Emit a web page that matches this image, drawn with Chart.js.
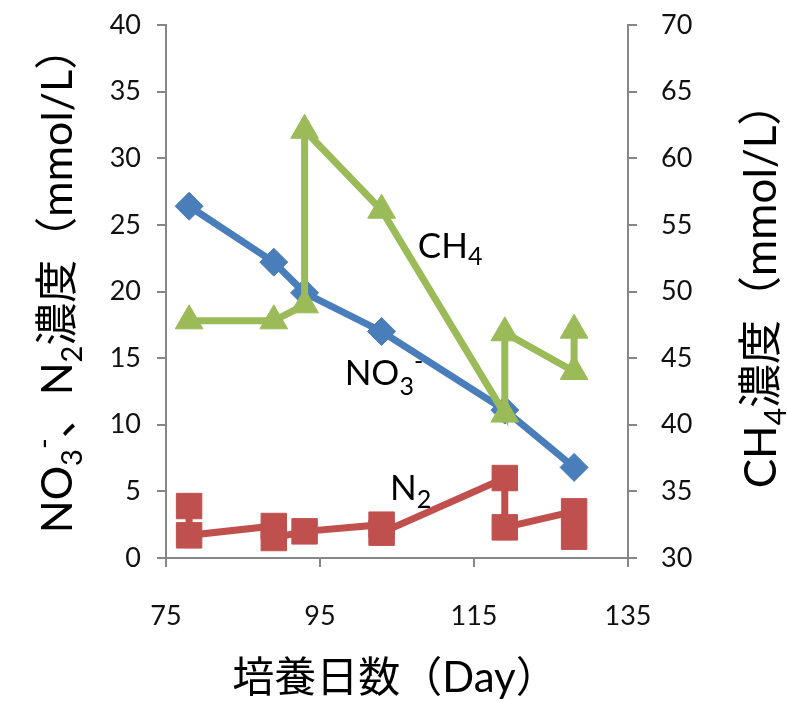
<!DOCTYPE html>
<html>
<head>
<meta charset="utf-8">
<script src="https://cdn.jsdelivr.net/npm/chart.js@4.4.1/dist/chart.umd.min.js"></script>
<style>
  html, body { margin: 0; padding: 0; background: #fff; }
</style>
</head>
<body>
<canvas id="chart" width="787" height="702"></canvas>
<script>
// NO3- (left axis)
const no3Days = [78, 89, 93, 103, 119, 128];
const no3Values = [26.4, 22.2, 19.9, 17.0, 11.1, 6.8];
// CH4 (right axis)
const ch4Days = [78, 89, 93, 93, 103, 119, 119, 128, 128];
const ch4Values = [47.8, 47.8, 49.0, 62.1, 56.1, 40.8, 46.9, 44.0, 47.1];
// N2 (left axis)
const n2Days = [78, 78, 89, 89, 93, 103, 103, 119, 119, 128, 128];
const n2Values = [3.9, 1.7, 2.4, 1.5, 2.0, 2.5, 1.9, 6.0, 2.3, 3.5, 1.6];

const xRange = [75, 135, 20];
const leftRange = [0, 40, 5];
const rightRange = [30, 70, 5];

const FONT = "Lato, 'Noto Sans CJK JP', sans-serif";
const AXIS_GRAY = '#878787';
const TICK_FONT = { family: FONT, size: 27 };

const toPoints = (xs, ys) => xs.map((x, i) => ({ x, y: ys[i] }));

// draws a string made of pieces: [text, size, baselineShift]
const drawRich = (ctx, parts, x, y, align) => {
  let total = 0;
  parts.forEach(p => {
    ctx.font = p[1] + 'px ' + FONT;
    total += ctx.measureText(p[0]).width;
  });
  let cx = align === 'center' ? x - total / 2 : x;
  parts.forEach(p => {
    ctx.font = p[1] + 'px ' + FONT;
    ctx.fillText(p[0], cx, y + p[2]);
    cx += ctx.measureText(p[0]).width;
  });
};

const textPlugin = {
  id: 'richText',
  afterDraw(chart) {
    const ctx = chart.ctx;
    const xs = chart.scales.x;
    const ys = chart.scales.y;
    ctx.save();
    ctx.fillStyle = '#000';
    ctx.textBaseline = 'alphabetic';

    // series labels inside the plot (anchored in data units)
    drawRich(ctx, [['CH', 35, 0], ['4', 25, 7]], xs.getPixelForValue(107.7), ys.getPixelForValue(22.5), 'left');
    drawRich(ctx, [['NO', 35, 0], ['3', 25, 10], ['-', 25, -15]], xs.getPixelForValue(98.2), ys.getPixelForValue(13.0), 'left');
    drawRich(ctx, [['N', 35, 0], ['2', 25, 8]], xs.getPixelForValue(104.1), ys.getPixelForValue(4.35), 'left');

    // x axis title
    drawRich(ctx, [['培養日数（Day）', 42, 0]], 395, 692, 'center');

    // left axis title
    ctx.translate(72, 280);
    ctx.rotate(-Math.PI / 2);
    drawRich(ctx, [['NO', 43, 0], ['3', 29, 10], ['-', 29, -18], ['、N', 43, 0], ['2', 29, 10], ['濃度（mmol/L）', 43, 0]], 0, 0, 'center');
    ctx.restore();

    // right axis title
    ctx.save();
    ctx.fillStyle = '#000';
    ctx.translate(776, 285);
    ctx.rotate(-Math.PI / 2);
    drawRich(ctx, [['CH', 44, 0], ['4', 30, 10], ['濃度（mmol/L）', 44, 0]], 0, 0, 'center');
    ctx.restore();
  }
};

const axisStyle = (size, padding, step) => ({
  grid: { display: true, drawOnChartArea: false, drawTicks: true, tickLength: 9, color: AXIS_GRAY, lineWidth: 2 },
  border: { display: true, color: AXIS_GRAY, width: 2 },
  ticks: { color: '#111', font: TICK_FONT, padding, stepSize: step },
  afterFit: scale => {
    if (size.w) scale.width = size.w;
    if (size.h) scale.height = size.h;
    // keep the tick padding from pushing the plot area down
    scale.paddingTop = 0;
    scale.paddingBottom = 0;
  }
});

new Chart(document.getElementById('chart'), {
  type: 'scatter',
  data: {
    datasets: [
      {
        label: 'CH4',
        data: toPoints(ch4Days, ch4Values),
        yAxisID: 'y2',
        showLine: true,
        borderColor: '#9bbb59',
        backgroundColor: '#9bbb59',
        borderWidth: 7,
        pointStyle: 'triangle',
        pointRadius: 16,
        pointBorderWidth: 1,
        order: 1
      },
      {
        label: 'NO3-',
        data: toPoints(no3Days, no3Values),
        yAxisID: 'y',
        showLine: true,
        borderColor: '#4a7ebb',
        backgroundColor: '#4a7ebb',
        borderWidth: 7,
        pointStyle: 'rectRot',
        pointRadius: 14,
        pointBorderWidth: 1,
        order: 2
      },
      {
        label: 'N2',
        data: toPoints(n2Days, n2Values),
        yAxisID: 'y',
        showLine: true,
        borderColor: '#c0504d',
        backgroundColor: '#c0504d',
        borderWidth: 7,
        pointStyle: 'rect',
        pointRadius: 18,
        pointBorderWidth: 1,
        order: 3
      }
    ]
  },
  options: {
    responsive: false,
    animation: false,
    devicePixelRatio: 1,
    layout: { padding: { top: 25, left: 0, right: 0, bottom: 0 } },
    plugins: {
      legend: { display: false },
      tooltip: { enabled: false }
    },
    scales: {
      x: {
        type: 'linear',
        min: xRange[0],
        max: xRange[1],
        ...axisStyle({ h: 144 }, 33, xRange[2])
      },
      y: {
        position: 'left',
        min: leftRange[0],
        max: leftRange[1],
        ...axisStyle({ w: 166 }, 16, leftRange[2])
      },
      y2: {
        position: 'right',
        min: rightRange[0],
        max: rightRange[1],
        ...axisStyle({ w: 159 }, 24, rightRange[2])
      }
    }
  },
  plugins: [textPlugin]
});
</script>
</body>
</html>
